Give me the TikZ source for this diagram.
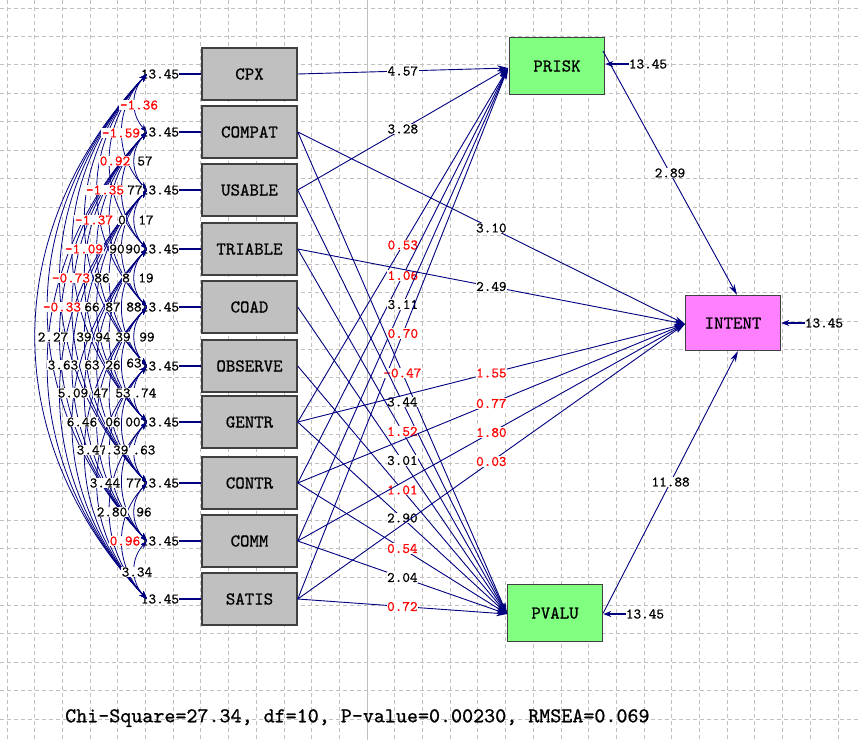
\documentclass[tikz,border=0pt]{standalone}
\usepackage{fontspec}
\newfontfamily\lis[FakeBold=0.8]{lmmono10-regular.otf}
\usetikzlibrary{arrows.meta,calc}
\definecolor{navy}{RGB}{0,0,128}
\definecolor{boxgray}{RGB}{192,192,192}
\definecolor{boxgreen}{RGB}{128,255,128}
\definecolor{boxpink}{RGB}{255,128,255}
\definecolor{gridgray}{RGB}{192,192,192}
\definecolor{lred}{RGB}{255,0,0}
\begin{document}
\begin{tikzpicture}[x=1pt,y=-1pt,
  gridline/.style={gridgray, line width=0.9pt, dash pattern=on 4pt off 3pt},
  basebox/.style={draw=black!75, line width=1.5pt, inner sep=0pt, minimum width=95pt,
    font=\lis\fontsize{18}{20}\selectfont},
  xbox/.style={basebox, fill=boxgray, minimum height=52pt},
  gbox/.style={basebox, fill=boxgreen, minimum height=57pt},
  pbox/.style={basebox, fill=boxpink, minimum height=55pt},
  lbl/.style={fill=white, inner sep=0.6pt, font=\lis\fontsize{14.5}{15}\selectfont},
  rlbl/.style={lbl, text=lred},
  plain/.style={inner sep=0pt, font=\lis\fontsize{14.5}{15}\selectfont},
  path/.style={draw=navy, line width=0.9pt, -{Stealth[length=11pt,width=6pt]}},
  cov/.style={draw=navy, line width=0.8pt, {Stealth[length=8pt,width=5.5pt]}-{Stealth[length=8pt,width=5.5pt]}},
  errarrow/.style={draw=navy, line width=1.6pt, -{Stealth[length=8pt,width=6pt]}},
  varline/.style={draw=navy, line width=1.2pt}
]
\useasboundingbox (0,0) rectangle (859,740);
\fill[white] (0,0) rectangle (859,740);
% grid
\foreach \k in {0,...,30} \draw[gridline] ({7+27.7*\k},0) -- ({7+27.7*\k},740);
\foreach \k in {0,...,25} \draw[gridline] (0,{8+28.45*\k}) -- (859,{8+28.45*\k});
\draw[gridgray, line width=1pt] (367,0) -- (367,740);

% exogenous boxes
\foreach \n/\y [count=\c from 0] in {CPX/74,COMPAT/132,USABLE/190,TRIABLE/249,COAD/307,OBSERVE/366,GENTR/422,CONTR/483,COMM/541,SATIS/599} {
  \node[xbox] (\n) at (249.5,\y) {\n};
  \node[plain] (var\n) at (160,\y) {13.45};
  \draw[varline] (var\n.east) -- (\n.west);
  \coordinate (c\c) at (147,\y);
}
% covariance curves
\def\ylist{{74,132,190,249,307,366,422,483,541,599}}
\foreach \i in {0,...,8} {
  \pgfmathtruncatemacro{\ip}{\i+1}
  \foreach \j in {\ip,...,9} {
    \pgfmathsetmacro{\ya}{\ylist[\i]}
    \pgfmathsetmacro{\yb}{\ylist[\j]}
    \pgfmathsetmacro{\kk}{16.5*(\j-\i)}
    \pgfmathsetmacro{\dd}{0.3*(\yb-\ya)}
    \draw[cov] (c\i) .. controls ($(c\i)+(-\kk,\dd)$) and ($(c\j)+(-\kk,-\dd)$) .. (c\j);
  }
}
% covariance labels (visible parts)
\foreach \x/\y/\t in {139/105/-1.36, 121/133/-1.59, 115/161/0.92, 105/190/-1.35, 94/220/-1.37,
  84/249/-1.09, 71/278/-0.73, 62/307/-0.33, 125/541/0.96}
  \node[rlbl] at (\x,\y) {\t};
\foreach \x/\y/\t in {145/161/57, 135/190/77, 122/220/0, 146/220/17,
  117/249/90, 133/249/90, 102/278/86, 126/278/8, 146/278/19,
  92/307/66, 113/307/87, 134/307/88,
  53/337/2.27, 84/337/39, 103/337/94, 123/337/39, 147/337/99,
  63/365/3.63, 92/365/63, 113/365/26, 134/363/63,
  73/393/5.09, 101/393/47, 123/393/53, 145/393/.74,
  82/422/6.46, 113/422/06, 133/422/00,
  92/450/3.47, 117/450/.39, 144/450/.63,
  105/483/3.44, 134/483/77,
  112/512/2.80, 144/512/96,
  137/572/3.34}
  \node[lbl] at (\x,\y) {\t};

% endogenous boxes
\node[gbox] (PRISK) at (557,66) {PRISK};
\node[gbox] (PVALU) at (555,613) {PVALU};
\node[pbox] (INTENT) at (733,323) {INTENT};
\coordinate (pr) at (508,68);
\coordinate (pv) at (507,614);
\coordinate (in) at (685,324);

% paths to PRISK
\foreach \s/\l/\c in {CPX/4.57/lbl, USABLE/3.28/lbl, GENTR/0.53/rlbl, CONTR/1.06/rlbl, COMM/3.11/lbl, SATIS/0.70/rlbl}
  \draw[path] (\s.east) -- node[\c]{\l} (pr);
% paths to PVALU
\foreach \s/\l/\c in {COMPAT/-0.47/rlbl, USABLE/3.44/lbl, TRIABLE/1.52/rlbl, COAD/3.01/lbl, OBSERVE/1.01/rlbl, GENTR/2.90/lbl, CONTR/0.54/rlbl, COMM/2.04/lbl, SATIS/0.72/rlbl}
  \draw[path] (\s.east) -- node[\c]{\l} (pv);
% paths to INTENT
\foreach \s/\l/\c in {COMPAT/3.10/lbl, TRIABLE/2.49/lbl, GENTR/1.55/rlbl, CONTR/0.77/rlbl, COMM/1.80/rlbl, SATIS/0.03/rlbl}
  \draw[path] (\s.east) -- node[\c]{\l} (in);

\coordinate (prout) at (603,51);
\coordinate (intop) at (737,295);
\draw[path] (prout) -- node[lbl]{2.89} (intop);
\coordinate (inbot) at (738,351);
\draw[path] (PVALU.east) -- node[lbl]{11.88} (inbot);

% error terms
\node[plain] (ePR) at (648,64) {13.45};
\draw[errarrow] (ePR.west) -- (PRISK.east |- ePR.west);
\node[plain] (eIN) at (824,323) {13.45};
\draw[errarrow] (eIN.west) -- (INTENT.east |- eIN.west);
\node[plain] (ePV) at (645,614) {13.45};
\draw[errarrow] (ePV.west) -- (PVALU.east |- ePV.west);

\node[inner sep=0pt, anchor=west, font=\lis\fontsize{21}{24}\selectfont] (fit) at (65,718) {Chi-Square=27.34, df=10, P-value=0.00230, RMSEA=0.069};
\end{tikzpicture}
\end{document}
